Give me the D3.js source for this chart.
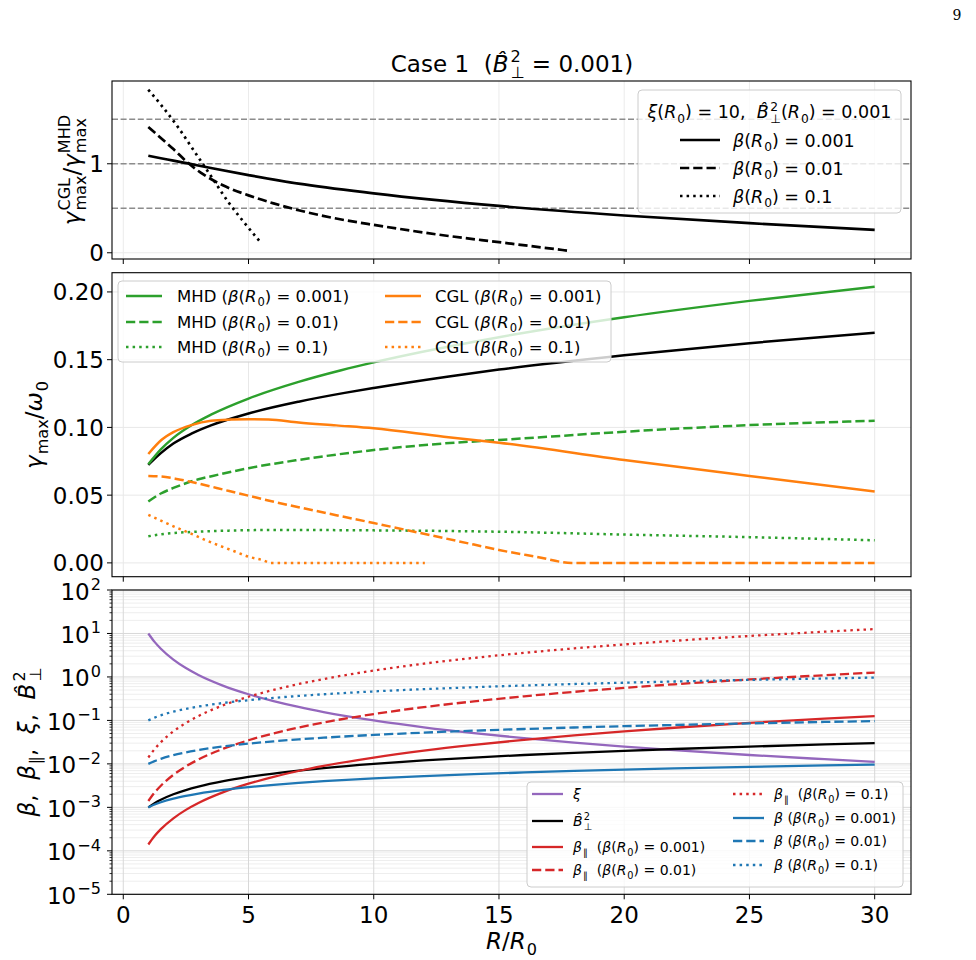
<!DOCTYPE html>
<html><head><meta charset="utf-8">
<script src="https://cdn.jsdelivr.net/npm/d3@7"></script>
<style>
html,body{margin:0;padding:0;background:#fff;}
text{font-family:"DejaVu Sans",sans-serif;white-space:pre;}
</style></head>
<body>
<svg id="chart" width="976" height="960"></svg>
<script>
// ---------------- DATA ----------------
const X_TICKS = [0, 5, 10, 15, 20, 25, 30];
const TOP_YTICKS = [0, 1];
const TOP_REF_LINES = [0.5, 1.0, 1.5];
const MID_YTICKS = [0.00, 0.05, 0.10, 0.15, 0.20];
const LOG_EXPONENTS = [-5, -4, -3, -2, -1, 0, 1, 2];

// top panel: gamma_CGL / gamma_MHD
const R_RAT1 = [1, 1.5, 2, 2.58, 3.5, 5, 7, 10, 15, 20, 25, 30];
const RAT1   = [1.090, 1.062, 1.036, 1.004, 0.952, 0.873, 0.776, 0.668, 0.526, 0.419, 0.332, 0.258];
const R_RAT2 = [1, 1.5, 2, 2.58, 3.2, 4, 5, 6, 7, 8.5, 10, 11.5, 12.84, 15, 17.8];
const RAT2   = [1.414, 1.29, 1.165, 1.011, 0.88, 0.755, 0.645, 0.555, 0.478, 0.385, 0.313, 0.248, 0.194, 0.119, 0.022];
const R_RAT3 = [1, 1.52, 2.18, 2.85, 3.52, 4.18, 4.85, 5.51];
const RAT3   = [1.832, 1.657, 1.414, 1.134, 0.854, 0.575, 0.332, 0.108];

// middle panel: gamma_max / omega_0
const R_REF  = [1, 1.5, 2, 2.72, 3.5, 5, 7, 8.84, 10, 13, 15, 20, 25, 30];
const REF    = [0.0723, 0.0810, 0.0881, 0.0954, 0.1015, 0.1103, 0.1190, 0.1255, 0.1291, 0.1376, 0.1427, 0.1533, 0.1622, 0.1699];
const R_MHD1 = [1, 1.5, 2, 2.72, 3.5, 5, 7, 8.7, 10, 12, 15, 20, 25, 30];
const MHD1   = [0.0728, 0.0838, 0.0923, 0.1016, 0.1094, 0.1213, 0.1336, 0.1422, 0.1480, 0.1560, 0.1666, 0.1813, 0.1934, 0.2039];
const R_MHD2 = [1, 1.5, 2, 2.5, 3, 3.57, 5, 7, 10, 12.84, 15, 20, 25, 30];
const MHD2   = [0.0453, 0.0512, 0.0553, 0.0588, 0.0617, 0.0642, 0.0699, 0.0760, 0.0833, 0.0882, 0.0907, 0.0968, 0.1017, 0.1049];
const R_MHD3 = [1, 1.5, 2, 2.9, 4.2, 6.2, 10, 15, 20, 25, 30];
const MHD3   = [0.0196, 0.0211, 0.022, 0.023, 0.0238, 0.0243, 0.024, 0.023, 0.0209, 0.019, 0.0167];
const R_CGL1 = [1, 1.52, 2, 2.72, 3.5, 4.3, 5, 5.8, 7, 8.5, 10, 12.8, 15, 20, 25, 30];
const CGL1   = [0.0804, 0.0907, 0.0965, 0.1017, 0.1049, 0.1058, 0.1061, 0.1059, 0.1037, 0.1015, 0.0993, 0.0931, 0.0887, 0.0760, 0.0642, 0.0527];
const R_CGL2 = [1, 1.5, 2.18, 2.9, 4.23, 5, 5.83, 7, 8.5, 10, 12, 14, 15, 16.5, 17.9, 20, 25, 30];
const CGL2   = [0.0642, 0.0638, 0.0618, 0.0590, 0.0530, 0.0496, 0.0459, 0.0411, 0.0352, 0.0294, 0.0215, 0.0135, 0.0095, 0.0045, 0, 0, 0, 0];
const R_CGL3 = [1, 1.57, 2.17, 2.7, 3.3, 3.84, 4.43, 5.03, 5.57, 5.9, 8, 10, 12.04];
const CGL3   = [0.0355, 0.0306, 0.0257, 0.0216, 0.0167, 0.0127, 0.0086, 0.0044, 0.002, 0, 0, 0, 0];

// bottom panel (log)
const R_B = [1, 1.25, 1.5, 2, 2.5, 3, 4, 5, 6, 7, 8, 10, 12, 14, 16, 18, 20, 22, 25, 28, 30];
const XI       = [10, 6.4, 4.44, 2.5, 1.6, 1.11, 0.625, 0.4, 0.278, 0.204, 0.156, 0.1, 0.0694, 0.051, 0.0391, 0.0309, 0.025, 0.0207, 0.016, 0.0128, 0.0111];
const BPERP2   = [0.001, 0.00125, 0.0015, 0.002, 0.0025, 0.003, 0.004, 0.005, 0.006, 0.007, 0.008, 0.01, 0.012, 0.014, 0.016, 0.018, 0.02, 0.022, 0.025, 0.028, 0.03];
const BPAR_001 = [0.00014, 0.000219, 0.000315, 0.00056, 0.000875, 0.00126, 0.00224, 0.0035, 0.00504, 0.00686, 0.00896, 0.014, 0.0202, 0.0274, 0.0358, 0.0454, 0.056, 0.0678, 0.0875, 0.1098, 0.126];
const BPAR_01  = [0.0014, 0.00219, 0.00315, 0.0056, 0.00875, 0.0126, 0.0224, 0.035, 0.0504, 0.0686, 0.0896, 0.14, 0.202, 0.274, 0.358, 0.454, 0.56, 0.678, 0.875, 1.098, 1.26];
const BPAR_1   = [0.014, 0.0219, 0.0315, 0.056, 0.0875, 0.126, 0.224, 0.35, 0.504, 0.686, 0.896, 1.4, 2.02, 2.74, 3.58, 4.54, 5.6, 6.78, 8.75, 10.98, 12.6];
const BETA_001 = [0.001, 0.00116, 0.00131, 0.00159, 0.00184, 0.00208, 0.00252, 0.00292, 0.0033, 0.00366, 0.004, 0.00464, 0.00524, 0.00581, 0.00635, 0.00687, 0.00737, 0.00785, 0.00855, 0.00922, 0.00966];
const BETA_01  = [0.01, 0.0116, 0.0131, 0.0159, 0.0184, 0.0208, 0.0252, 0.0292, 0.033, 0.0366, 0.04, 0.0464, 0.0524, 0.0581, 0.0635, 0.0687, 0.0737, 0.0785, 0.0855, 0.0922, 0.0966];
const BETA_1   = [0.1, 0.116, 0.131, 0.159, 0.184, 0.208, 0.252, 0.292, 0.33, 0.366, 0.4, 0.464, 0.524, 0.581, 0.635, 0.687, 0.737, 0.785, 0.855, 0.922, 0.966];

// ---------------- STYLE ----------------
const C = {green:"#2ca02c", orange:"#ff7f0e", red:"#d62728", blue:"#1f77b4", purple:"#9467bd", black:"#000000"};
const DASH = {solid:null, dashed:"9.25,4", dotted:"2.5,4.1"};
const FONT = 23;

const svg = d3.select("#chart");
const L = 112, Rr = 911;
const x = d3.scaleLinear().domain([-0.45, 31.45]).range([L, Rr]);
const panels = {
  top: {t: 81, b: 259},
  mid: {t: 272.7, b: 576.7},
  bot: {t: 590, b: 894.3}
};
const yTop = d3.scaleLinear().domain([-0.07, 1.93]).range([panels.top.b, panels.top.t]);
const yMid = d3.scaleLinear().domain([-0.0102, 0.2142]).range([panels.mid.b, panels.mid.t]);
const yBot = d3.scaleLog().domain([1e-5, 1e2]).range([panels.bot.b, panels.bot.t]);

// one <text> per rich string, pieces as positioned tspans
function rich(parent, parts, xx, yy, size, anchor, rot) {
  const t = parent.append("text")
    .attr("transform", `translate(${xx},${yy})` + (rot ? ` rotate(${rot})` : ""))
    .attr("fill", "#000");
  const span = (str, px, py, fs, it) => t.append("tspan").attr("x", px).attr("y", py)
    .attr("font-size", fs).attr("font-style", it ? "italic" : "normal").text(str);
  const pieces = [];
  let cx = 0;
  for (const p of parts) {
    const s0 = span(p.t, cx, 0, size, p.i); pieces.push([s0, cx]);
    const w = s0.node().getComputedTextLength();
    let w2 = 0;
    const ss = size * 0.7, gap = p.gap ? p.gap * size : 1;
    if (p.sup) { const s = span(p.sup, cx + w + gap, -size * 0.42, ss, false); pieces.push([s, cx + w + gap]); w2 = Math.max(w2, s.node().getComputedTextLength() + gap); }
    if (p.sub) { const s = span(p.sub, cx + w + gap, size * 0.26, ss, false); pieces.push([s, cx + w + gap]); w2 = Math.max(w2, s.node().getComputedTextLength() + gap); }
    cx += w + w2;
  }
  const off = anchor === "middle" ? -cx / 2 : anchor === "end" ? -cx : 0;
  for (const [s, px] of pieces) s.attr("x", px + off);
  return cx;
}
const line = (ys) => d3.line().x(d => x(d[0])).y(d => ys(d[1])).curve(d3.curveMonotoneX);
const zip = (a, b) => a.map((v, i) => [v, b[i]]);
const BHAT = () => ({t: "B\u0302", i: true, sup: "2", sub: "⊥", gap: 0.09});

// clip paths
const defs = svg.append("defs");
for (const [k, p] of Object.entries(panels)) {
  defs.append("clipPath").attr("id", "clip-" + k).append("rect")
    .attr("x", L).attr("y", p.t).attr("width", Rr - L).attr("height", p.b - p.t);
}

function drawSeries(g, ys, list, clip, lw) {
  const gg = g.append("g").attr("clip-path", `url(#clip-${clip})`);
  for (const s of list) {
    gg.append("path").attr("d", line(ys)(zip(s.r, s.v)))
      .attr("fill", "none").attr("stroke", s.color).attr("stroke-width", lw || 2.5)
      .attr("stroke-dasharray", DASH[s.dash]).attr("stroke-linecap", "butt").attr("stroke-linejoin", "round");
  }
}
function xGrid(g, p, color) {
  g.selectAll(null).data(X_TICKS).enter().append("line")
    .attr("x1", d => x(d)).attr("x2", d => x(d)).attr("y1", p.t).attr("y2", p.b)
    .attr("stroke", color).attr("stroke-width", 1);
}
function xTicks(g, p, labels) {
  g.selectAll(null).data(X_TICKS).enter().append("line")
    .attr("x1", d => x(d)).attr("x2", d => x(d)).attr("y1", p.b).attr("y2", p.b + 5)
    .attr("stroke", "#000").attr("stroke-width", 1);
  if (labels) {
    g.selectAll(null).data(X_TICKS).enter().append("text")
      .attr("x", d => x(d)).attr("y", p.b + 29).attr("text-anchor", "middle")
      .attr("font-size", FONT).text(d => d);
  }
}
function frame(g, p) {
  g.append("rect").attr("x", L).attr("y", p.t).attr("width", Rr - L).attr("height", p.b - p.t)
    .attr("fill", "none").attr("stroke", "#000").attr("stroke-width", 1.1);
}
function legendHandle(g, x1, x2, yy, color, dash, lw) {
  g.append("line").attr("x1", x1).attr("x2", x2).attr("y1", yy).attr("y2", yy)
    .attr("stroke", color).attr("stroke-width", lw || 2.5).attr("stroke-dasharray", DASH[dash]);
}
function legendBox(g, x0, y0, w, h) {
  g.append("rect").attr("x", x0).attr("y", y0).attr("width", w).attr("height", h).attr("rx", 4)
    .attr("fill", "#fff").attr("fill-opacity", 0.8).attr("stroke", "#cccccc").attr("stroke-width", 1);
}
const bR0 = (val) => [{t: "β", i: true}, {t: "("}, {t: "R", i: true, sub: "0"}, {t: ") = " + val}];

// page number
svg.append("text").attr("x", 957).attr("y", 20).attr("font-size", 14)
  .style("font-family", "'DejaVu Serif','Liberation Serif',serif").attr("text-anchor", "middle").text("9");

// title
rich(svg, [{t: "Case 1  ("}, BHAT(), {t: " = 0.001)"}], 512, 72, FONT, "middle");

// ---------------- TOP PANEL ----------------
{
  const p = panels.top, g = svg.append("g");
  xGrid(g, p, "#ebebeb");
  g.selectAll(null).data(TOP_YTICKS).enter().append("line")
    .attr("x1", L).attr("x2", Rr).attr("y1", d => yTop(d)).attr("y2", d => yTop(d))
    .attr("stroke", "#ebebeb").attr("stroke-width", 1);
  g.selectAll(null).data(TOP_REF_LINES).enter().append("line")
    .attr("x1", L).attr("x2", Rr).attr("y1", d => yTop(d)).attr("y2", d => yTop(d))
    .attr("stroke", "#8c8c8c").attr("stroke-width", 1.4).attr("stroke-dasharray", "6,2.6");
  drawSeries(g, yTop, [
    {r: R_RAT1, v: RAT1, color: C.black, dash: "solid"},
    {r: R_RAT2, v: RAT2, color: C.black, dash: "dashed"},
    {r: R_RAT3, v: RAT3, color: C.black, dash: "dotted"}
  ], "top", 2.7);
  frame(g, p);
  xTicks(g, p, false);
  g.selectAll(null).data(TOP_YTICKS).enter().append("line")
    .attr("x1", L - 5).attr("x2", L).attr("y1", d => yTop(d)).attr("y2", d => yTop(d)).attr("stroke", "#000");
  g.selectAll(null).data(TOP_YTICKS).enter().append("text")
    .attr("x", L - 8).attr("y", d => yTop(d) + 8.4).attr("text-anchor", "end").attr("font-size", FONT).text(d => d);
  rich(g, [{t: "γ", i: true, sup: "CGL", sub: "max"}, {t: "/"}, {t: "γ", i: true, sup: "MHD", sub: "max"}], 80, 170, FONT, "middle", -90);
  // legend
  legendBox(g, 638, 90, 263, 123);
  rich(g, [{t: "ξ", i: true}, {t: "("}, {t: "R", i: true, sub: "0"}, {t: ") = 10,  "},
           BHAT(), {t: "("}, {t: "R", i: true, sub: "0"}, {t: ") = 0.001"}],
       769.5, 118, 17.5, "middle");
  const ent = [["solid", "0.001", 140], ["dashed", "0.01", 168], ["dotted", "0.1", 196]];
  for (const [d, v, yy] of ent) {
    legendHandle(g, 680, 720, yy, C.black, d, 2.7);
    rich(g, bR0(v), 733, yy + 6.5, 17.5, "start");
  }
}

// ---------------- MIDDLE PANEL ----------------
{
  const p = panels.mid, g = svg.append("g");
  xGrid(g, p, "#e8e8e8");
  g.selectAll(null).data(MID_YTICKS).enter().append("line")
    .attr("x1", L).attr("x2", Rr).attr("y1", d => yMid(d)).attr("y2", d => yMid(d))
    .attr("stroke", "#e8e8e8").attr("stroke-width", 1);
  drawSeries(g, yMid, [
    {r: R_REF, v: REF, color: C.black, dash: "solid"},
    {r: R_MHD1, v: MHD1, color: C.green, dash: "solid"},
    {r: R_MHD2, v: MHD2, color: C.green, dash: "dashed"},
    {r: R_MHD3, v: MHD3, color: C.green, dash: "dotted"},
    {r: R_CGL1, v: CGL1, color: C.orange, dash: "solid"},
    {r: R_CGL2, v: CGL2, color: C.orange, dash: "dashed"},
    {r: R_CGL3, v: CGL3, color: C.orange, dash: "dotted"}
  ], "mid", 2.5);
  frame(g, p);
  xTicks(g, p, false);
  g.selectAll(null).data(MID_YTICKS).enter().append("line")
    .attr("x1", L - 5).attr("x2", L).attr("y1", d => yMid(d)).attr("y2", d => yMid(d)).attr("stroke", "#000");
  g.selectAll(null).data(MID_YTICKS).enter().append("text")
    .attr("x", L - 8).attr("y", d => yMid(d) + 8.4).attr("text-anchor", "end").attr("font-size", FONT)
    .text(d => d3.format(".2f")(d));
  rich(g, [{t: "γ", i: true, sub: "max"}, {t: "/"}, {t: "ω", i: true, sub: "0"}], 42, 425, FONT, "middle", -90);
  // legend
  legendBox(g, 118, 281, 493, 81);
  const rows = [["solid", "0.001", 296], ["dashed", "0.01", 322], ["dotted", "0.1", 347]];
  for (const [d, v, yy] of rows) {
    legendHandle(g, 126, 162, yy, C.green, d);
    rich(g, [{t: "MHD ("}, ...bR0(v), {t: ")"}], 177, yy + 6, 16.5, "start");
    legendHandle(g, 385, 421, yy, C.orange, d);
    rich(g, [{t: "CGL ("}, ...bR0(v), {t: ")"}], 435, yy + 6, 16.5, "start");
  }
}

// ---------------- BOTTOM PANEL ----------------
{
  const p = panels.bot, g = svg.append("g");
  const minor = [];
  for (const e of LOG_EXPONENTS.slice(0, -1)) for (let m = 2; m <= 9; m++) minor.push(m * Math.pow(10, e));
  g.selectAll(null).data(minor).enter().append("line")
    .attr("x1", L).attr("x2", Rr).attr("y1", d => yBot(d)).attr("y2", d => yBot(d))
    .attr("stroke", "#eeeeee").attr("stroke-width", 1);
  xGrid(g, p, "#d8d8d8");
  g.selectAll(null).data(LOG_EXPONENTS).enter().append("line")
    .attr("x1", L).attr("x2", Rr).attr("y1", d => yBot(Math.pow(10, d))).attr("y2", d => yBot(Math.pow(10, d)))
    .attr("stroke", "#d8d8d8").attr("stroke-width", 1);
  drawSeries(g, yBot, [
    {r: R_B, v: XI, color: C.purple, dash: "solid"},
    {r: R_B, v: BPERP2, color: C.black, dash: "solid"},
    {r: R_B, v: BPAR_001, color: C.red, dash: "solid"},
    {r: R_B, v: BPAR_01, color: C.red, dash: "dashed"},
    {r: R_B, v: BPAR_1, color: C.red, dash: "dotted"},
    {r: R_B, v: BETA_001, color: C.blue, dash: "solid"},
    {r: R_B, v: BETA_01, color: C.blue, dash: "dashed"},
    {r: R_B, v: BETA_1, color: C.blue, dash: "dotted"}
  ], "bot", 2.3);
  frame(g, p);
  xTicks(g, p, true);
  g.selectAll(null).data(minor).enter().append("line")
    .attr("x1", L - 2.5).attr("x2", L).attr("y1", d => yBot(d)).attr("y2", d => yBot(d)).attr("stroke", "#000").attr("stroke-width", 0.8);
  g.selectAll(null).data(LOG_EXPONENTS).enter().append("line")
    .attr("x1", L - 5).attr("x2", L).attr("y1", d => yBot(Math.pow(10, d))).attr("y2", d => yBot(Math.pow(10, d))).attr("stroke", "#000");
  for (const e of LOG_EXPONENTS) {
    rich(g, [{t: "10", sup: (e < 0 ? "−" : "") + Math.abs(e)}], 101, yBot(Math.pow(10, e)) + 9.5, FONT, "end");
  }
  rich(g, [{t: "β", i: true}, {t: ",  "}, {t: "β", i: true, sub: "∥"}, {t: ",  "}, {t: "ξ", i: true}, {t: ",  "},
           BHAT()], 35, 742, FONT, "middle", -90);
  rich(g, [{t: "R", i: true}, {t: "/"}, {t: "R", i: true, sub: "0"}], 511.5, 949, FONT, "middle");
  // legend
  legendBox(g, 527, 782, 376, 105);
  const FS = 14;
  const left = [
    [C.purple, "solid", 794, [{t: "ξ", i: true}]],
    [C.black, "solid", 821, [BHAT()]],
    [C.red, "solid", 847, [{t: "β", i: true, sub: "∥"}, {t: "  ("}, ...bR0("0.001"), {t: ")"}]],
    [C.red, "dashed", 870, [{t: "β", i: true, sub: "∥"}, {t: "  ("}, ...bR0("0.01"), {t: ")"}]]
  ];
  const right = [
    [C.red, "dotted", 794, [{t: "β", i: true, sub: "∥"}, {t: "  ("}, ...bR0("0.1"), {t: ")"}]],
    [C.blue, "solid", 818, [{t: "β", i: true}, {t: " ("}, ...bR0("0.001"), {t: ")"}]],
    [C.blue, "dashed", 841, [{t: "β", i: true}, {t: " ("}, ...bR0("0.01"), {t: ")"}]],
    [C.blue, "dotted", 865, [{t: "β", i: true}, {t: " ("}, ...bR0("0.1"), {t: ")"}]]
  ];
  for (const [c, d, yy, parts] of left) { legendHandle(g, 532, 563, yy, c, d, 2.3); rich(g, parts, 573, yy + 5, FS, "start"); }
  for (const [c, d, yy, parts] of right) { legendHandle(g, 733, 764, yy, c, d, 2.3); rich(g, parts, 774, yy + 5, FS, "start"); }
}
</script>
</body></html>
